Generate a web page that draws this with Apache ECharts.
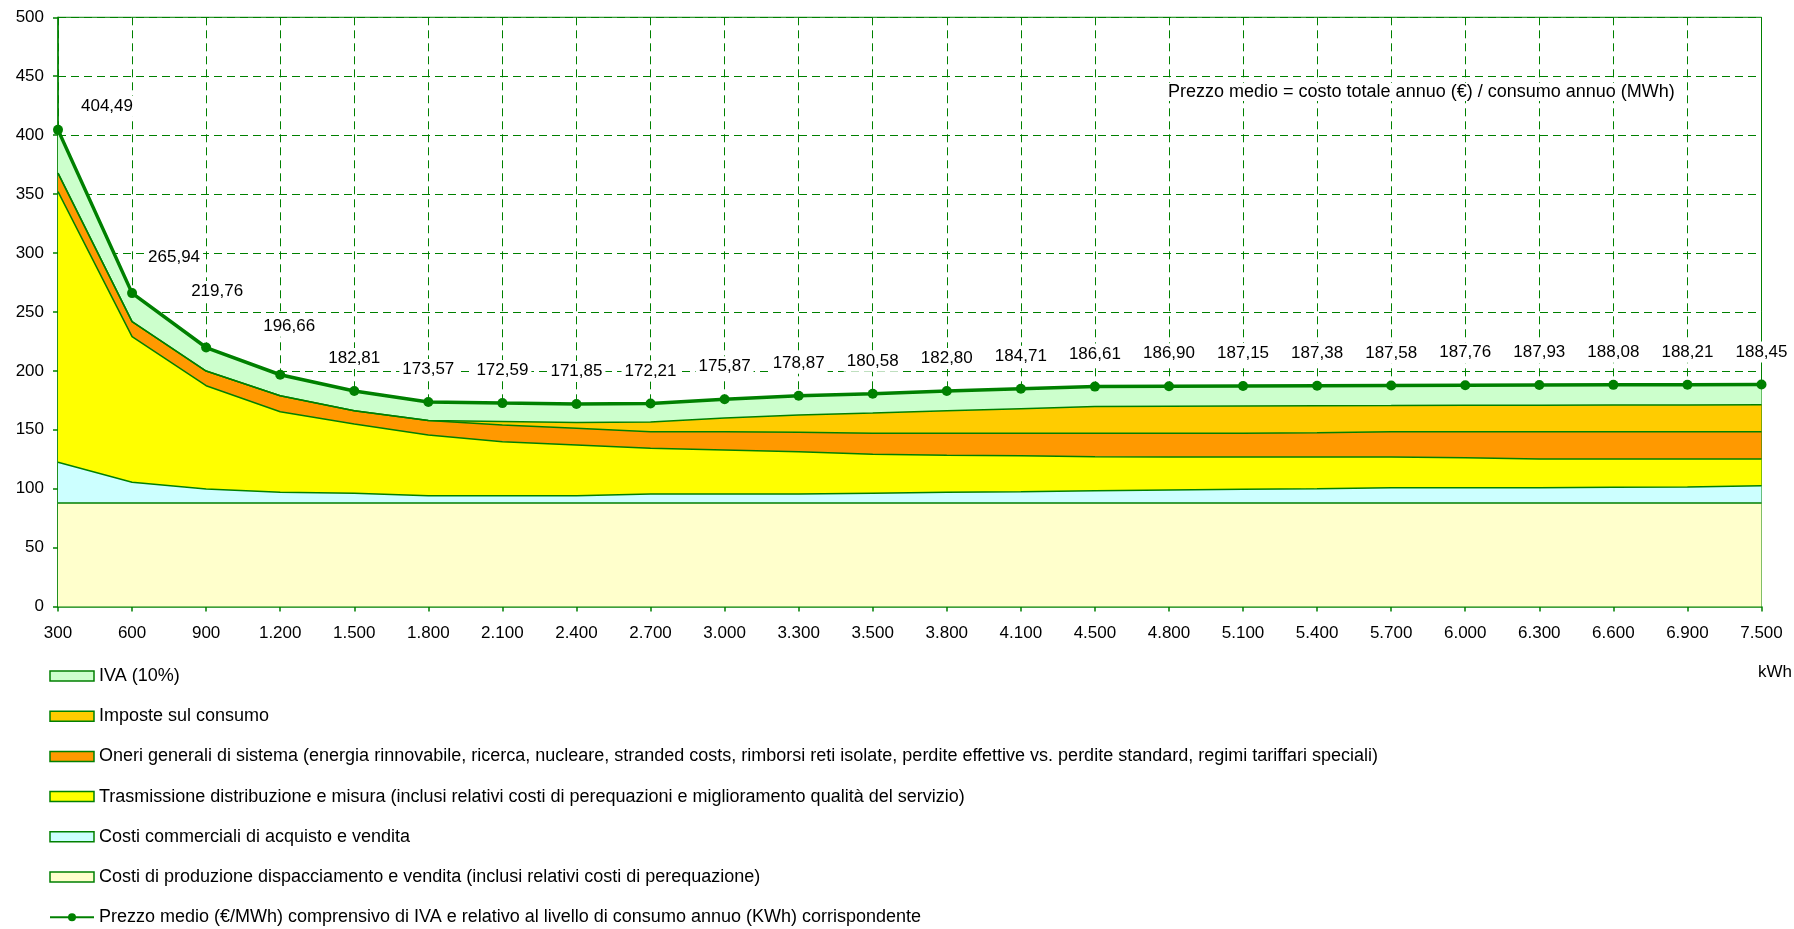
<!DOCTYPE html>
<html>
<head>
<meta charset="utf-8">
<script src="https://cdn.jsdelivr.net/npm/echarts@6/dist/echarts.min.js"></script>
<style>
html,body{margin:0;padding:0;background:#fff;}
#chart{width:1794px;height:929px;}
</style>
</head>
<body>
<div id="chart"></div>
<script>
// ---- DATA ----
const categories = ['300','600','900','1.200','1.500','1.800','2.100','2.400','2.700','3.000','3.300','3.500','3.800','4.100','4.500','4.800','5.100','5.400','5.700','6.000','6.300','6.600','6.900','7.500'];

const yTicks = [0,50,100,150,200,250,300,350,400,450,500];

const costiProduzione = [87.8,87.8,87.8,87.8,87.8,87.8,87.8,87.8,87.8,87.8,87.8,87.8,87.8,87.8,87.8,87.8,87.8,87.8,87.8,87.8,87.8,87.8,87.8,87.8];
const costiCommerciali = [34.6,17.6,11.9,9.1,8.3,6.2,6.2,6.2,7.7,7.7,7.7,8.3,9.1,9.6,10.5,11.1,11.7,12.2,13.0,13.0,13.0,13.3,13.6,14.7];
const trasmissione = [229.6,123.6,87.7,68.4,58.8,51.5,45.9,43.1,38.8,37.3,35.9,33.1,31.4,30.6,28.8,28.0,27.4,26.9,26.1,25.5,24.4,24.1,23.8,22.7];
const oneriGenerali = [15.7,12.8,12.4,13.5,11.3,12.3,14.1,14.1,14.0,15.5,16.5,17.8,18.7,19.0,19.9,20.1,20.1,20.6,21.4,22.0,23.1,23.1,23.1,23.1];
const imposteConsumo = [0,0,0,0,0,0,2.9,5.0,8.25,11.6,14.7,17.2,19.2,20.9,22.65,22.9,23.1,22.85,22.2,22.4,22.55,22.7,22.8,23.0];
const iva = [36.77,24.18,19.98,17.88,16.62,15.78,15.69,15.62,15.66,15.99,16.26,16.42,16.62,16.79,16.96,16.99,17.01,17.03,17.05,17.07,17.08,17.10,17.11,17.13];
const prezzoMedio = [404.49,265.94,219.76,196.66,182.81,173.57,172.59,171.85,172.21,175.87,178.87,180.58,182.80,184.71,186.61,186.90,187.15,187.38,187.58,187.76,187.93,188.08,188.21,188.45];

const names = {
  iva: 'IVA (10%)',
  imp: 'Imposte sul consumo',
  oneri: 'Oneri generali di sistema (energia rinnovabile, ricerca, nucleare, stranded costs, rimborsi reti isolate, perdite effettive vs. perdite standard, regimi tariffari speciali)',
  tras: 'Trasmissione distribuzione e misura (inclusi relativi costi di perequazioni e miglioramento qualità del servizio)',
  comm: 'Costi commerciali di acquisto e vendita',
  prod: 'Costi di produzione dispacciamento e vendita (inclusi relativi costi di perequazione)',
  prezzo: 'Prezzo medio (€/MWh) comprensivo di IVA e relativo al livello di consumo annuo (KWh) corrispondente'
};

// ---- STYLE ----
const FONT = '"Liberation Sans", Arial, sans-serif';
const GREEN = '#008000';
const colors = {
  prod: '#FFFFCC', comm: '#CCFFFF', tras: '#FFFF00', oneri: '#FF9900', imp: '#FFCC00', iva: '#CCFFCC'
};
// manual label placement for the first points (as in original)
const labelShift = {0:[49,9], 1:[42,-3], 2:[11,-23.5], 3:[9,-16]};

function areaSeries(key, data) {
  return {
    name: names[key], type: 'line', stack: 'tot', data: data,
    symbol: 'none', smooth: false,
    lineStyle: { color: GREEN, width: 1.5 },
    itemStyle: { color: colors[key] },
    areaStyle: { color: colors[key], opacity: 1 },
    emphasis: { disabled: true },
    z: 2
  };
}

const lineData = prezzoMedio.map((v, i) => {
  const o = { value: v };
  if (labelShift[i]) o.label = { offset: labelShift[i] };
  return o;
});

function legendRect(key) {
  return { name: names[key], icon: 'rect', itemStyle: { color: colors[key], borderColor: GREEN, borderWidth: 1.5 } };
}

const option = {
  animation: false,
  backgroundColor: '#fff',
  textStyle: { fontFamily: FONT },
  grid: { left: 58, right: 32.5, top: 17.3, bottom: 322.5, show: true, borderColor: GREEN, borderWidth: 1, backgroundColor: 'transparent', containLabel: false },
  xAxis: {
    type: 'category', data: categories, boundaryGap: false,
    axisLine: { lineStyle: { color: GREEN, width: 1.5 } },
    axisTick: { show: true, length: 5, lineStyle: { color: GREEN, width: 1.5 } },
    axisLabel: { color: '#000', fontSize: 17, fontFamily: FONT, margin: 18, interval: 0 },
    splitLine: { show: true, lineStyle: { color: GREEN, width: 1, type: [8, 5] } }
  },
  yAxis: {
    type: 'value', min: yTicks[0], max: yTicks[yTicks.length - 1], interval: yTicks[1] - yTicks[0],
    axisLine: { show: true, lineStyle: { color: GREEN, width: 1.5 } },
    axisTick: { show: true, length: 5, lineStyle: { color: GREEN, width: 1.5 } },
    axisLabel: { color: '#000', fontSize: 17, fontFamily: FONT, margin: 14 },
    splitLine: { show: true, lineStyle: { color: GREEN, width: 1, type: [8, 5] } }
  },
  legend: {
    orient: 'vertical', left: 49, top: 667, height: 262,
    itemWidth: 44, itemHeight: 10, itemGap: 22.2,
    padding: 0,
    selectedMode: false,
    textStyle: { color: '#000', fontSize: 18, lineHeight: 18, fontFamily: FONT },
    data: [
      legendRect('iva'), legendRect('imp'), legendRect('oneri'), legendRect('tras'), legendRect('comm'), legendRect('prod'),
      { name: names.prezzo }
    ]
  },
  graphic: [
    { type: 'text', right: 2, top: 664, z: 10,
      style: { text: 'kWh', fill: '#000', font: '17px ' + FONT } },
    { type: 'text', left: 1168, top: 83, z: 10,
      style: { text: 'Prezzo medio = costo totale annuo (€) / consumo annuo (MWh)', fill: '#000', font: '18px ' + FONT, backgroundColor: '#fff' } }
  ],
  series: [
    areaSeries('prod', costiProduzione),
    areaSeries('comm', costiCommerciali),
    areaSeries('tras', trasmissione),
    areaSeries('oneri', oneriGenerali),
    areaSeries('imp', imposteConsumo),
    areaSeries('iva', iva),
    {
      name: names.prezzo, type: 'line', data: lineData,
      symbol: 'circle', symbolSize: 10,
      lineStyle: { color: GREEN, width: 3.5 },
      itemStyle: { color: GREEN },
      emphasis: { disabled: true },
      z: 5,
      label: {
        show: true, position: 'top', distance: 17,
        color: '#000', fontSize: 17, fontFamily: FONT,
        backgroundColor: '#fff', padding: [2, 3],
        formatter: p => p.value.toFixed(2).replace('.', ',')
      }
    }
  ]
};

const chart = echarts.init(document.getElementById('chart'), null, { renderer: 'canvas' });
chart.setOption(option);
</script>
</body>
</html>
